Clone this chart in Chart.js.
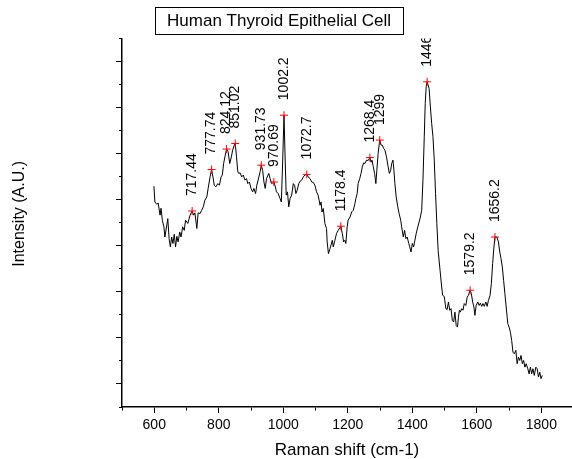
<!DOCTYPE html>
<html>
<head>
  <meta charset="utf-8">
  <title>Human Thyroid Epithelial Cell</title>
  <script src="https://cdn.jsdelivr.net/npm/chart.js"></script>
  <style>
    body { margin: 0; background: #fff; }
  </style>
</head>
<body>
  <canvas id="chart" width="572" height="459"></canvas>

  <script>
    // Raman spectrum (intensity in arbitrary units)
    const ramanShift = [
      599, 602, 608, 612, 618, 621, 625, 630, 633, 642,
      646, 650, 654, 658, 662, 666, 670, 674, 679, 683,
      688, 693, 697, 704, 711, 717.44, 722, 726, 732, 736,
      742, 747, 752, 757, 763, 767, 773, 777.74, 782, 786,
      791, 797, 802, 807, 811, 815, 820, 824.12, 829, 834,
      839, 843, 847, 851.02, 855, 859, 862, 866, 871, 876,
      881, 886, 890, 895, 900, 905, 909, 914, 918, 922,
      928, 931.73, 936, 940, 944, 948, 955, 959, 964, 970.69,
      974, 979, 984, 990, 994, 998, 1002.2, 1006, 1009, 1013,
      1017, 1021, 1026, 1031, 1035, 1039, 1043, 1048, 1052, 1057,
      1062, 1067, 1072.7, 1077, 1083, 1088, 1093, 1098, 1103, 1108,
      1114, 1117, 1120, 1124, 1129, 1134, 1136, 1140, 1145, 1152,
      1155, 1160, 1165, 1170, 1178.4, 1183, 1187, 1191, 1194, 1198,
      1201, 1207, 1212, 1217, 1222, 1225, 1229, 1232, 1237, 1241,
      1245, 1249, 1253, 1258, 1263, 1268.4, 1272, 1275, 1279, 1283,
      1287, 1290, 1294, 1299, 1303, 1307, 1311, 1315, 1320, 1325,
      1329, 1333, 1336, 1340, 1343, 1346, 1350, 1355, 1359, 1364,
      1367, 1372, 1376, 1380, 1384, 1389, 1392, 1396, 1400, 1404,
      1408, 1412, 1417, 1421, 1425, 1429, 1433, 1437, 1440, 1443,
      1446, 1452, 1456, 1460, 1464, 1468, 1472, 1476, 1480, 1486,
      1491, 1494, 1499, 1504, 1508, 1512, 1516, 1520, 1524, 1528,
      1532, 1536, 1540, 1543, 1546, 1549, 1553, 1557, 1561, 1566,
      1570, 1574, 1579.2, 1583, 1587, 1591, 1594, 1598, 1603, 1607,
      1611, 1615, 1619, 1623, 1628, 1632, 1636, 1641, 1645, 1649,
      1653, 1656.2, 1662, 1667, 1671, 1675, 1679, 1683, 1687, 1691,
      1696, 1700, 1704, 1708, 1712, 1716, 1721, 1725, 1729, 1733,
      1737, 1741, 1745, 1749, 1753, 1758, 1762, 1766, 1770, 1774,
      1778, 1783, 1787, 1791, 1795, 1799, 1803
    ];
    const intensity = [
      9.59, 8.90, 8.80, 8.86, 8.33, 8.63, 8.11, 7.82, 7.38, 8.18,
      7.31, 6.95, 7.38, 7.10, 7.50, 6.95, 7.41, 7.17, 7.60, 7.38,
      7.82, 7.67, 8.11, 7.97, 8.33, 8.51, 8.33, 8.43, 7.75, 8.43,
      8.40, 8.54, 8.69, 8.98, 9.12, 9.49, 9.99, 10.31, 9.99, 9.63,
      9.56, 9.70, 9.63, 9.99, 10.07, 10.57, 10.93, 11.20, 11.08, 10.57,
      10.86, 11.15, 11.33, 11.44, 10.86, 10.21, 10.14, 10.17, 9.99, 10.07,
      9.85, 9.92, 9.70, 9.77, 9.49, 9.34, 9.49, 9.27, 9.63, 9.85,
      10.21, 10.50, 10.28, 9.77, 9.49, 9.92, 10.14, 9.92, 9.70, 9.77,
      9.63, 9.34, 9.27, 9.05, 8.90, 10.64, 12.67, 10.64, 9.20, 9.34,
      8.69, 9.05, 9.20, 9.70, 9.63, 9.27, 9.41, 9.70, 9.80, 9.85,
      9.99, 10.07, 10.10, 9.99, 9.92, 9.77, 9.75, 9.63, 9.34, 9.20,
      8.76, 8.90, 8.47, 8.62, 7.97, 7.75, 7.17, 6.66, 6.88, 7.24,
      6.95, 7.24, 7.53, 7.67, 7.85, 7.53, 7.17, 7.24, 7.10, 7.82,
      8.11, 8.25, 8.47, 8.54, 8.83, 9.05, 9.27, 9.70, 9.92, 10.14,
      10.43, 10.60, 10.57, 10.72, 10.70, 10.83, 10.63, 10.72, 10.43, 10.14,
      9.70, 10.28, 11.01, 11.59, 11.37, 11.37, 11.23, 11.15, 10.86, 10.43,
      10.14, 10.28, 10.57, 10.72, 10.28, 9.70, 9.12, 8.69, 8.40, 8.11,
      7.82, 7.38, 7.67, 7.31, 7.38, 7.10, 6.95, 6.73, 7.10, 6.95,
      7.24, 7.53, 7.82, 8.03, 8.25, 8.54, 9.85, 11.73, 13.18, 13.90,
      14.12, 13.83, 13.03, 12.31, 11.73, 10.72, 9.27, 7.97, 6.80, 5.93,
      5.21, 4.85, 4.80, 4.27, 4.23, 4.56, 4.20, 4.27, 3.76, 3.69,
      4.12, 3.54, 3.47, 3.90, 4.20, 4.12, 4.27, 4.20, 4.49, 4.41,
      4.77, 4.85, 5.07, 4.92, 4.56, 4.34, 3.98, 4.41, 4.56, 4.41,
      4.51, 4.37, 4.49, 4.37, 4.56, 4.37, 4.63, 4.85, 5.36, 6.23,
      6.95, 7.38, 7.38, 7.17, 6.73, 6.44, 6.08, 5.50, 4.92, 4.34,
      3.62, 3.47, 3.25, 2.89, 2.38, 2.31, 2.46, 1.88, 2.17, 2.02,
      2.24, 1.88, 2.02, 1.73, 1.88, 1.66, 1.44, 1.73, 1.44, 1.66,
      1.37, 1.73, 1.66, 1.30, 1.51, 1.23, 1.37
    ];

    // picked peaks
    const peakShift = [717.44, 777.74, 824.12, 851.02, 931.73, 970.69, 1002.2,
                       1072.7, 1178.4, 1268.4, 1299, 1446, 1579.2, 1656.2];
    const peakIntensity = [8.51, 10.31, 11.20, 11.44, 10.50, 9.77, 12.67,
                           10.10, 7.85, 10.83, 11.59, 14.12, 5.07, 7.38];
    const peakLabels = ['717.44', '777.74', '824.12', '851.02', '931.73', '970.69', '1002.2',
                        '1072.7', '1178.4', '1268.4', '1299', '1446', '1579.2', '1656.2'];

    // axes
    const xTicks = [500, 600, 700, 800, 900, 1000, 1100, 1200, 1300, 1400, 1500, 1600, 1700, 1800];
    const xLabelled = [600, 800, 1000, 1200, 1400, 1600, 1800];
    const yTicks = [0, 1, 2, 3, 4, 5, 6, 7, 8, 9, 10, 11, 12, 13, 14, 15, 16];

    const chartTitle = 'Human Thyroid Epithelial Cell';
    const FONT = "'Liberation Sans', Arial, Helvetica, sans-serif";

    Chart.defaults.font.family = FONT;
    Chart.defaults.color = '#000';

    // boxed title above the plot
    const titleBox = {
      id: 'titleBox',
      afterDraw(chart) {
        const ctx = chart.ctx;
        ctx.save();
        ctx.font = '17px ' + FONT;
        const w = ctx.measureText(chartTitle).width;
        const cx = 279, top = 7, h = 27;
        ctx.strokeStyle = '#000';
        ctx.lineWidth = 1;
        ctx.strokeRect(Math.round(cx - w / 2 - 12) + 0.5, top + 0.5, Math.round(w + 24), h);
        ctx.fillStyle = '#000';
        ctx.textAlign = 'center';
        ctx.textBaseline = 'middle';
        ctx.fillText(chartTitle, cx, top + h / 2 + 1);
        ctx.restore();
      }
    };

    // vertical peak labels, clipped to the plot area
    const peakText = {
      id: 'peakText',
      afterDatasetsDraw(chart) {
        const meta = chart.getDatasetMeta(0);
        const a = chart.chartArea;
        const ctx = chart.ctx;
        ctx.save();
        ctx.beginPath();
        ctx.rect(a.left, a.top, a.right - a.left, a.bottom - a.top);
        ctx.clip();
        ctx.font = '14px ' + FONT;
        ctx.fillStyle = '#000';
        ctx.textAlign = 'left';
        ctx.textBaseline = 'middle';
        meta.data.forEach((pt, i) => {
          ctx.save();
          ctx.translate(pt.x, pt.y - 15);
          ctx.rotate(-Math.PI / 2);
          ctx.fillText(peakLabels[i], 0, 0);
          ctx.restore();
        });
        ctx.restore();
      }
    };

    const spectrum = ramanShift.map((x, i) => ({ x: x, y: intensity[i] }));
    const peaks = peakShift.map((x, i) => ({ x: x, y: peakIntensity[i] }));

    new Chart(document.getElementById('chart'), {
      type: 'scatter',
      data: {
        datasets: [
          {
            label: 'Peaks',
            data: peaks,
            pointStyle: 'cross',
            pointRadius: 4,
            pointBorderWidth: 1,
            pointBorderColor: '#ff0000',
            pointBackgroundColor: '#ff0000',
            showLine: false
          },
          {
            label: 'Spectrum',
            data: spectrum,
            showLine: true,
            borderColor: '#000',
            borderWidth: 1,
            pointRadius: 0,
            tension: 0
          }
        ]
      },
      options: {
        responsive: false,
        animation: false,
        devicePixelRatio: 1,
        layout: { autoPadding: false, padding: { top: 38.5, left: 0, right: 0, bottom: 0 } },
        plugins: {
          legend: { display: false },
          tooltip: { enabled: false }
        },
        scales: {
          x: {
            type: 'linear',
            min: 500,
            max: 1895,
            afterBuildTicks: (scale) => { scale.ticks = xTicks.map(v => ({ value: v })); },
            border: { display: true, color: '#000', width: 1.5 },
            grid: {
              drawOnChartArea: false,
              tickLength: 6,
              tickColor: '#000',
              tickWidth: 1,
              tickBorderDash: (c) => xLabelled.includes(c.tick.value) ? [] : [3, 100]
            },
            ticks: {
              padding: 3.5,
              maxRotation: 0,
              autoSkip: false,
              font: { size: 14 },
              callback: (v) => xLabelled.includes(v) ? String(v) : ''
            },
            title: {
              display: true,
              text: 'Raman shift (cm-1)',
              font: { size: 17 },
              padding: { top: 3.8, bottom: -2 }
            }
          },
          y: {
            type: 'linear',
            min: 0,
            max: 16,
            afterBuildTicks: (scale) => { scale.ticks = yTicks.map(v => ({ value: v })); },
            border: { display: true, color: '#000', width: 1.5 },
            grid: {
              drawOnChartArea: false,
              tickLength: 6,
              tickColor: '#000',
              tickWidth: 1,
              tickBorderDash: (c) => c.tick.value % 2 === 1 ? [] : [0, 3, 3, 100]
            },
            ticks: { display: false },
            title: {
              display: true,
              text: '    Intensity (A.U.)',
              font: { size: 16 },
              padding: { top: 10.4, bottom: 86.4 }
            }
          }
        }
      },
      plugins: [titleBox, peakText]
    });
  </script>
</body>
</html>
